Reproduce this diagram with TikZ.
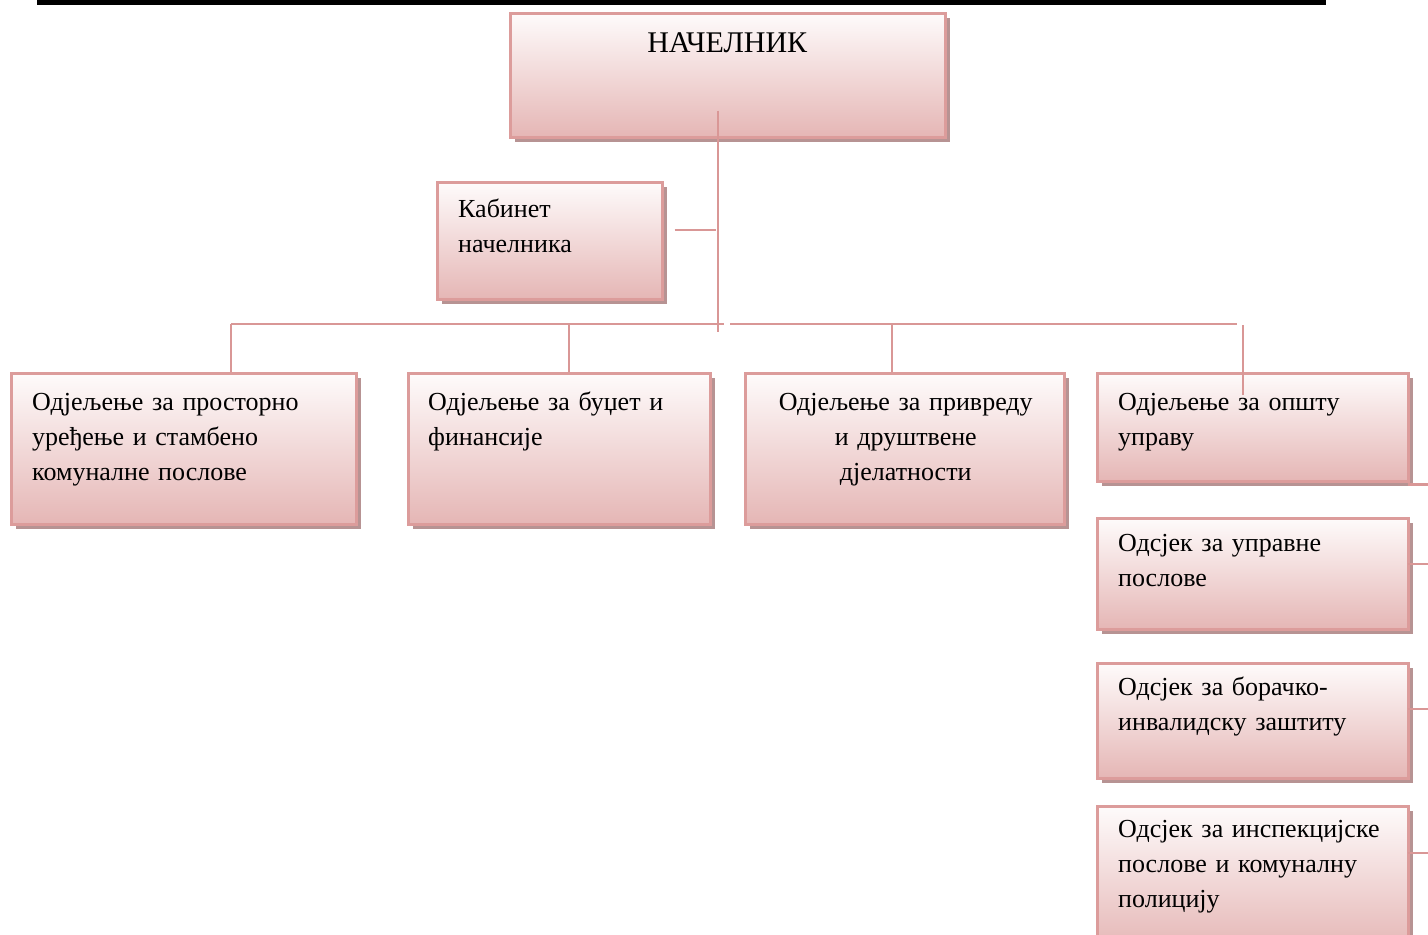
\documentclass[tikz,border=0pt]{standalone}
\usepackage{fontspec}
\setmainfont{Liberation Serif}
\usetikzlibrary{shadows,calc}
\definecolor{linec}{RGB}{217,151,150}
\definecolor{bordc}{RGB}{220,156,155}
\definecolor{shadc}{RGB}{183,147,147}
\definecolor{filltop}{RGB}{254,251,251}
\definecolor{fillbot}{RGB}{229,182,181}
\tikzset{
  orgbox/.style={draw=bordc, line width=2.5pt, top color=filltop, bottom color=fillbot,
    drop shadow={shadow xshift=4.5pt, shadow yshift=-4.5pt, fill=shadc, opacity=1},
    inner sep=0pt, anchor=north west},
  txt/.style={font=\fontsize{26}{35}\selectfont, inner sep=0pt, align=left, text width=330pt, anchor=base west},
  conn/.style={draw=linec, line width=2.3pt}
}
\begin{document}
\begin{tikzpicture}[x=1pt,y=-1pt]
\useasboundingbox (0,0) rectangle (1428,935);
\fill[black] (37,0) rectangle (1326,4.5);

% boxes
\node[orgbox, minimum width=435, minimum height=124] (boss) at (509,12) {};
\node[orgbox, minimum width=225, minimum height=117] (kab) at (436,181) {};
\node[orgbox, minimum width=345, minimum height=151] (b1) at (10,372) {};
\node[orgbox, minimum width=302, minimum height=151] (b2) at (407,372) {};
\node[orgbox, minimum width=319, minimum height=151] (b3) at (744,372) {};
\node[orgbox, minimum width=311, minimum height=108] (b4) at (1096,372) {};
\node[orgbox, minimum width=311, minimum height=111] (b5) at (1096,517) {};
\node[orgbox, minimum width=311, minimum height=115] (b6) at (1096,662) {};
\node[orgbox, minimum width=311, minimum height=145] (b7) at (1096,805) {};

% texts
\node[txt, font=\fontsize{30}{35}\selectfont, anchor=base, align=center, text width=400pt] (tboss) at ($(boss.north)+(-0.5,40)$) {НАЧЕЛНИК};
\node[txt] (tkab) at ($(kab.north west)+(22,36)$) {Кабинет\\начелника};
\node[txt] (t1) at ($(b1.north west)+(22,38)$) {Одјељење за просторно\\уређење и стамбено\\комуналне послове};
\node[txt] (t2) at ($(b2.north west)+(21,38)$) {Одјељење за буџет и\\финансије};
\node[txt, anchor=base, align=center, text width=310pt] (t3) at ($(b3.north)+(1,38)$) {Одјељење за привреду\\и друштвене\\дјелатности};
\node[txt] (t4) at ($(b4.north west)+(22,38)$) {Одјељење за општу\\управу};
\node[txt] (t5) at ($(b5.north west)+(22,34.5)$) {Одсјек за управне\\послове};
\node[txt] (t6) at ($(b6.north west)+(22,33.5)$) {Одсјек за борачко-\\инвалидску заштиту};
\node[txt] (t7) at ($(b7.north west)+(22,32.5)$) {Одсјек за инспекцијске\\послове и комуналну\\полицију};

% connectors
\coordinate (busL) at (231,324);
\coordinate (busM1) at (724,324);
\coordinate (busM2) at (730,324);
\coordinate (busR) at (1237,324);
\coordinate (j2) at (569,324);
\coordinate (j3) at (892,324);
\coordinate (j4) at (1243,325);

\draw[conn] ($(boss.south)+(-10,-28)$) -- ($(boss.south)+(-10,193)$);
\draw[conn] ($(kab.east)+(11,-10.5)$) -- ($(kab.east)+(52,-10.5)$);
\draw[conn] (busL) -- (busM1);
\draw[conn] (busM2) -- (busR);
\draw[conn] (busL) -- (busL |- b1.north);
\draw[conn] (j2) -- (j2 |- b2.north);
\draw[conn] (j3) -- (j3 |- b3.north);
\draw[conn] (j4) -- ($(j4 |- b4.north)+(0,23)$);

\draw[conn] ($(b4.south east)+(-2,2)$) -- ++(25,0);
\draw[conn] ($(b5.east)+(-2,-9.5)$) -- ++(25,0);
\draw[conn] ($(b6.east)+(-2,-11.5)$) -- ++(25,0);
\draw[conn] ($(b7.north east)+(-2,48)$) -- ++(25,0);
\end{tikzpicture}
\end{document}
